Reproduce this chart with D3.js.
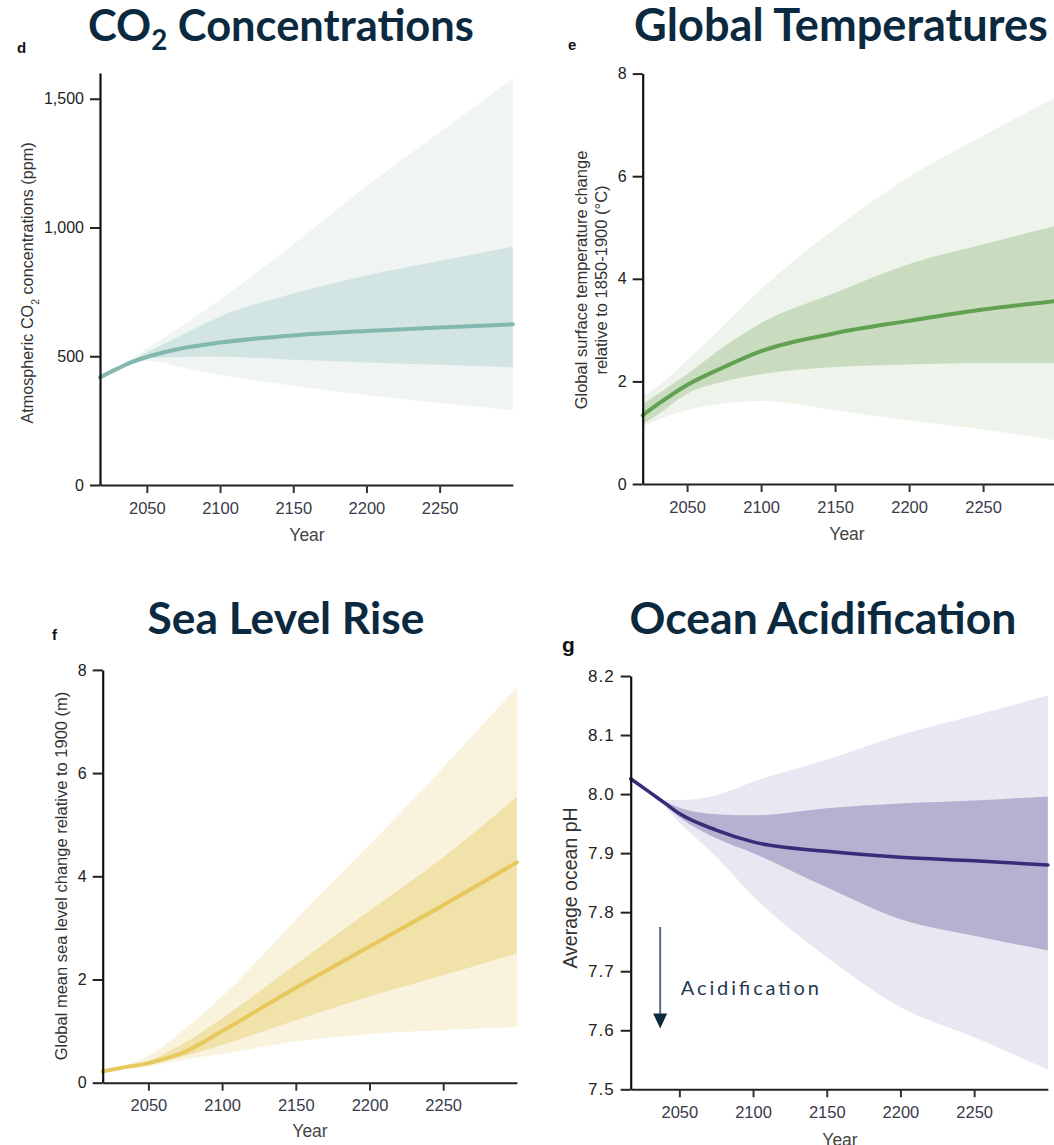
<!DOCTYPE html>
<html>
<head>
<meta charset="utf-8">
<script src="https://cdn.jsdelivr.net/npm/d3@7"></script>
<style>
  body { margin: 0; background: #fff; }
  svg { display: block; }
</style>
</head>
<body>
<script>
  'use strict';

  // ---- data ----
  var co2Years   = [2018, 2030, 2040, 2050, 2075, 2100, 2150, 2200, 2250, 2300];
  var co2Median  = [418, 452, 478, 497, 532, 553, 581, 598, 612, 624];
  var co2InnerHi = [418, 455, 485, 515, 585, 654, 744, 814, 870, 925];
  var co2InnerLo = [418, 450, 475, 492, 497, 498, 486, 476, 467, 457];
  var co2OuterHi = [418, 458, 492, 530, 620, 720, 935, 1160, 1370, 1580];
  var co2OuterLo = [418, 448, 470, 482, 455, 428, 385, 350, 318, 290];

  var tempYears   = [2020, 2030, 2050, 2075, 2100, 2150, 2200, 2250, 2300];
  var tempMedian  = [1.34, 1.55, 1.93, 2.28, 2.59, 2.94, 3.18, 3.40, 3.57];
  var tempInnerHi = [1.55, 1.75, 2.14, 2.68, 3.14, 3.73, 4.29, 4.67, 5.04];
  var tempInnerLo = [1.17, 1.35, 1.76, 2.00, 2.14, 2.28, 2.33, 2.36, 2.36];
  var tempOuterHi = [1.70, 1.90, 2.41, 3.10, 3.80, 4.98, 5.99, 6.79, 7.55];
  var tempOuterLo = [1.12, 1.25, 1.44, 1.57, 1.62, 1.44, 1.24, 1.06, 0.85];

  var seaYears   = [2019, 2030, 2050, 2075, 2100, 2150, 2200, 2250, 2300];
  var seaMedian  = [0.22, 0.28, 0.38, 0.60, 1.00, 1.84, 2.64, 3.44, 4.27];
  var seaInnerHi = [0.22, 0.29, 0.42, 0.78, 1.25, 2.29, 3.33, 4.37, 5.54];
  var seaInnerLo = [0.22, 0.27, 0.35, 0.52, 0.73, 1.21, 1.67, 2.08, 2.51];
  var seaOuterHi = [0.22, 0.30, 0.52, 1.05, 1.67, 3.16, 4.61, 6.11, 7.67];
  var seaOuterLo = [0.22, 0.26, 0.31, 0.45, 0.56, 0.80, 0.94, 1.02, 1.08];

  var phYears   = [2017, 2030, 2040, 2050, 2075, 2100, 2150, 2200, 2250, 2300];
  var phMedian  = [8.026, 8.003, 7.985, 7.967, 7.939, 7.919, 7.903, 7.893, 7.887, 7.880];
  var phInnerHi = [8.026, 8.003, 7.988, 7.977, 7.966, 7.964, 7.976, 7.984, 7.989, 7.996];
  var phInnerLo = [8.026, 8.003, 7.982, 7.961, 7.925, 7.900, 7.842, 7.788, 7.760, 7.735];
  var phOuterHi = [8.026, 8.003, 7.990, 7.990, 7.998, 8.021, 8.058, 8.100, 8.133, 8.167];
  var phOuterLo = [8.026, 8.003, 7.978, 7.952, 7.894, 7.827, 7.724, 7.639, 7.588, 7.533];

  var yearTicks = [2050, 2100, 2150, 2200, 2250];
  var co2Ticks  = [0, 500, 1000, 1500];
  var tempTicks = [0, 2, 4, 6, 8];
  var seaTicks  = [0, 2, 4, 6, 8];
  var phTicks   = [7.5, 7.6, 7.7, 7.8, 7.9, 8.0, 8.1, 8.2];

  // "Acidification" arrow, in year / pH units
  var arrowYear = 2037, arrowFrom = 7.775, arrowTo = 7.603;

  var FONT = "'Liberation Sans', Arial, sans-serif";
  var TITLE = "#0c2a3f";

  var svg = d3.select("body")
    .append("svg")
      .attr("width", 1054)
      .attr("height", 1145);

  function zip(years, a, b) {
    return years.map(function(yr, i) { return { year: yr, lo: a[i], hi: b ? b[i] : a[i] }; });
  }

  function drawPanel(p) {
    var x = d3.scaleLinear().domain([p.years[0], 2300]).range([p.left, p.left + (2300 - p.years[0]) * p.pxPerYear]);
    var y = d3.scaleLinear().domain(p.yDomain).range([p.bottom, p.top]);
    var g = svg.append("g");

    var area = d3.area()
      .curve(d3.curveMonotoneX)
      .x(function(d) { return x(d.year); })
      .y0(function(d) { return y(d.lo); })
      .y1(function(d) { return y(d.hi); });

    g.append("path")
      .datum(zip(p.years, p.outerLo, p.outerHi))
      .attr("d", area)
      .style("fill", p.outerColor);

    g.append("path")
      .datum(zip(p.years, p.innerLo, p.innerHi))
      .attr("d", area)
      .style("fill", p.innerColor);

    var line = d3.line()
      .curve(d3.curveMonotoneX)
      .x(function(d) { return x(d.year); })
      .y(function(d) { return y(d.lo); });

    g.append("path")
      .datum(zip(p.years, p.median))
      .attr("d", line)
      .style("fill", "none")
      .style("stroke", p.lineColor)
      .style("stroke-width", p.lineWidth)
      .style("stroke-linecap", "round");

    // axes
    var yAxis = g.append("g")
      .attr("transform", "translate(" + p.left + ",0)")
      .call(d3.axisLeft(y).tickValues(p.yTicks).tickSize(10).tickSizeOuter(0).tickPadding(6).tickFormat(p.yFormat));
    yAxis.select(".domain").style("stroke", "#111").style("stroke-width", 2.2);
    yAxis.selectAll(".tick line").style("stroke", "#222").style("stroke-width", 2);
    yAxis.selectAll(".tick text")
      .style("font-family", FONT)
      .style("font-size", p.yTickSize + "px")
      .style("letter-spacing", p.yTickSpacing + "px")
      .style("fill", "#222");

    var xAxis = g.append("g")
      .attr("transform", "translate(0," + p.bottom + ")")
      .call(d3.axisBottom(x).tickValues(yearTicks).tickSize(8).tickSizeOuter(0).tickPadding(9).tickFormat(d3.format("d")));
    xAxis.select(".domain").style("stroke", "#222").style("stroke-width", 2);
    xAxis.selectAll(".tick line").style("stroke", "#333").style("stroke-width", 2);
    xAxis.selectAll(".tick text")
      .style("font-family", FONT)
      .style("font-size", "16.5px")
      .style("fill", "#3a3a4a");

    g.append("text")
      .attr("x", p.yearX)
      .attr("y", p.yearY)
      .text("Year")
      .style("text-anchor", "middle")
      .style("font-family", FONT)
      .style("font-size", "17.5px")
      .style("fill", "#444");

    // rotated axis title
    var yt = g.append("text")
      .attr("transform", "translate(" + p.ytX + "," + p.ytY + ") rotate(-90)")
      .style("text-anchor", "middle")
      .style("font-family", FONT)
      .style("font-size", p.ytSize + "px")
      .style("fill", "#333");
    p.ytLines.forEach(function(ln, i) {
      var t = yt.append("tspan").attr("x", 0).attr("dy", i === 0 ? "0.35em" : p.ytGap);
      ln.forEach(function(part) {
        var s = t.append("tspan").text(part.t);
        if (part.sub) s.attr("baseline-shift", "sub").style("font-size", (p.ytSize * 0.65) + "px");
      });
    });

    // panel letter
    g.append("text")
      .attr("x", p.letterX)
      .attr("y", p.letterY)
      .text(p.letter)
      .style("font-family", FONT)
      .style("font-weight", "bold")
      .style("font-size", p.letterSize + "px")
      .style("fill", "#111");

    // big title, sized to the reference width
    var title = svg.append("text")
      .attr("x", p.titleX)
      .attr("y", p.titleY)
      .style("text-anchor", "middle")
      .style("font-family", "Lato, sans-serif")
      .style("font-weight", 700)
      .style("font-size", "44px")
      .style("fill", TITLE);
    p.title.forEach(function(part) {
      var s = title.append("tspan").text(part.t);
      if (part.sub) s.attr("dy", 9).style("font-size", "28px");
      else if (s.node().previousSibling) s.attr("dy", -9);
    });
    var w = title.node().getComputedTextLength();
    title.style("font-size", (44 * p.titleW / w) + "px");
    title.selectAll("tspan").filter(function(d, i) { return p.title[i].sub; })
      .style("font-size", (28 * p.titleW / w) + "px");

    return { x: x, y: y, g: g };
  }

  drawPanel({
    years: co2Years, median: co2Median,
    innerLo: co2InnerLo, innerHi: co2InnerHi, outerLo: co2OuterLo, outerHi: co2OuterHi,
    outerColor: "#f0f5f4", innerColor: "#d2e5e2", lineColor: "#82b8b0", lineWidth: 4,
    left: 100, pxPerYear: 1.464, bottom: 485, top: 73, yDomain: [0, 1600],
    yTicks: co2Ticks, yFormat: d3.format(","), yTickSize: 16, yTickSpacing: 0,
    yearX: 307, yearY: 541,
    ytX: 27, ytY: 283, ytSize: 16.2, ytGap: 0,
    ytLines: [[{ t: "Atmospheric CO" }, { t: "2", sub: true }, { t: " concentrations (ppm)" }]],
    letter: "d", letterX: 17, letterY: 53, letterSize: 15,
    title: [{ t: "CO" }, { t: "2", sub: true }, { t: " Concentrations" }], titleX: 281, titleY: 41, titleW: 386
  });

  drawPanel({
    years: tempYears, median: tempMedian,
    innerLo: tempInnerLo, innerHi: tempInnerHi, outerLo: tempOuterLo, outerHi: tempOuterHi,
    outerColor: "#eef4eb", innerColor: "#c9dcc0", lineColor: "#62a152", lineWidth: 4,
    left: 642.7, pxPerYear: 1.48, bottom: 484, top: 73.6, yDomain: [0, 8],
    yTicks: tempTicks, yFormat: d3.format("d"), yTickSize: 16, yTickSpacing: 0,
    yearX: 847, yearY: 540,
    ytX: 581, ytY: 280, ytSize: 16.5, ytGap: 20,
    ytLines: [[{ t: "Global surface temperature change" }], [{ t: "relative to 1850-1900 (°C)" }]],
    letter: "e", letterX: 568, letterY: 50, letterSize: 15,
    title: [{ t: "Global Temperatures" }], titleX: 841, titleY: 41, titleW: 414
  });

  drawPanel({
    years: seaYears, median: seaMedian,
    innerLo: seaInnerLo, innerHi: seaInnerHi, outerLo: seaOuterLo, outerHi: seaOuterHi,
    outerColor: "#f9f2dc", innerColor: "#f1e2a9", lineColor: "#e7c85c", lineWidth: 4,
    left: 102.7, pxPerYear: 1.474, bottom: 1082.7, top: 669.9, yDomain: [0, 8],
    yTicks: seaTicks, yFormat: d3.format("d"), yTickSize: 16, yTickSpacing: 0,
    yearX: 310, yearY: 1137,
    ytX: 61, ytY: 876, ytSize: 16.5, ytGap: 0,
    ytLines: [[{ t: "Global mean sea level change relative to 1900 (m)" }]],
    letter: "f", letterX: 52, letterY: 640, letterSize: 15,
    title: [{ t: "Sea Level Rise" }], titleX: 286, titleY: 634, titleW: 277
  });

  var ph = drawPanel({
    years: phYears, median: phMedian,
    innerLo: phInnerLo, innerHi: phInnerHi, outerLo: phOuterLo, outerHi: phOuterHi,
    outerColor: "#e9e7f2", innerColor: "#b7b0d0", lineColor: "#3a2b7a", lineWidth: 3.5,
    left: 630.7, pxPerYear: 1.474, bottom: 1089.3, top: 676, yDomain: [7.5, 8.2],
    yTicks: phTicks, yFormat: d3.format(".1f"), yTickSize: 17, yTickSpacing: 1,
    yearX: 840, yearY: 1146,
    ytX: 570, ytY: 888, ytSize: 19.5, ytGap: 0,
    ytLines: [[{ t: "Average ocean pH" }]],
    letter: "g", letterX: 562, letterY: 652, letterSize: 21,
    title: [{ t: "Ocean Acidification" }], titleX: 823, titleY: 634, titleW: 387
  });

  // acidification annotation
  var ax = ph.x(arrowYear);
  ph.g.append("line")
    .attr("x1", ax).attr("x2", ax)
    .attr("y1", ph.y(arrowFrom))
    .attr("y2", ph.y(arrowTo) - 10)
    .style("stroke", "#5b6b7a")
    .style("stroke-width", 2);
  ph.g.append("path")
    .attr("d", d3.line()([[ax - 7, ph.y(arrowTo) - 15], [ax + 7, ph.y(arrowTo) - 15], [ax, ph.y(arrowTo)]]) + "Z")
    .style("fill", TITLE);
  ph.g.append("text")
    .attr("x", ph.x(2051))
    .attr("y", ph.y(7.659))
    .text("Acidification")
    .attr("textLength", 138)
    .style("font-family", "Lato, sans-serif")
    .style("font-size", "20px")
    .style("fill", "#1f3a52");
</script>
</body>
</html>
